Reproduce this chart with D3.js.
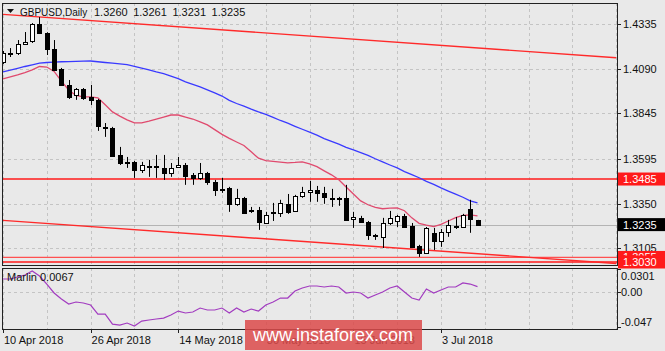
<!DOCTYPE html>
<html>
<head>
<meta charset="utf-8">
<script src="https://cdn.jsdelivr.net/npm/d3@7"></script>
<style>
  body { margin: 0; background: #e9e9e9; }
  svg { display: block; font-family: "Liberation Sans", Arial, sans-serif; }
</style>
</head>
<body>
<div id="grafico"></div>
<script>
// GBPUSD daily bars, 10 Apr 2018 .. 10 Jul 2018
const dates = [
  "2018-04-10","2018-04-11","2018-04-12","2018-04-13","2018-04-16","2018-04-17","2018-04-18","2018-04-19","2018-04-20",
  "2018-04-23","2018-04-24","2018-04-25","2018-04-26","2018-04-27","2018-04-30",
  "2018-05-01","2018-05-02","2018-05-03","2018-05-04","2018-05-07","2018-05-08","2018-05-09","2018-05-10","2018-05-11",
  "2018-05-14","2018-05-15","2018-05-16","2018-05-17","2018-05-18","2018-05-21","2018-05-22","2018-05-23","2018-05-24",
  "2018-05-25","2018-05-28","2018-05-29","2018-05-30","2018-05-31",
  "2018-06-01","2018-06-04","2018-06-05","2018-06-06","2018-06-07","2018-06-08","2018-06-11","2018-06-12","2018-06-13",
  "2018-06-14","2018-06-15","2018-06-18","2018-06-19","2018-06-20","2018-06-21","2018-06-22","2018-06-25","2018-06-26",
  "2018-06-27","2018-06-28","2018-06-29",
  "2018-07-02","2018-07-03","2018-07-04","2018-07-05","2018-07-06","2018-07-09","2018-07-10"
];
const openP = [1.4127,1.4178,1.4176,1.4225,1.4242,1.4335,1.4286,1.4198,1.4088,1.4001,1.3946,1.3979,1.3935,1.3919,1.3771,
  1.3765,1.3617,1.3580,1.3579,1.3535,1.3557,1.3554,1.3546,1.3518,1.3551,1.3562,1.3508,1.3491,1.3518,1.3469,1.3431,1.3436,
  1.3349,1.3382,1.3316,1.3316,1.3244,1.3305,1.3299,1.3349,1.3310,1.3392,1.3414,1.3425,1.3409,1.3379,1.3376,1.3382,1.3266,
  1.3272,1.3250,1.3176,1.3168,1.3244,1.3255,1.3283,1.3228,1.3118,1.3080,1.3190,1.3146,1.3195,1.3230,1.3222,1.3321,1.3260];
const highP = [1.4187,1.4203,1.4247,1.4291,1.4340,1.4373,1.4290,1.4247,1.4094,1.4028,1.3984,1.3984,1.4001,1.3924,1.3792,
  1.3771,1.3661,1.3606,1.3584,1.3579,1.3590,1.3617,1.3617,1.3573,1.3606,1.3573,1.3518,1.3573,1.3524,1.3480,1.3491,1.3442,
  1.3431,1.3387,1.3332,1.3332,1.3305,1.3354,1.3371,1.3403,1.3398,1.3442,1.3475,1.3447,1.3442,1.3431,1.3387,1.3453,1.3305,
  1.3283,1.3255,1.3184,1.3272,1.3310,1.3288,1.3294,1.3244,1.3124,1.3222,1.3217,1.3211,1.3261,1.3277,1.3294,1.3371,1.3261];
const lowP = [1.4116,1.4154,1.4165,1.4220,1.4231,1.4280,1.4165,1.4077,1.3995,1.3924,1.3919,1.3919,1.3891,1.3749,1.3716,
  1.3606,1.3562,1.3546,1.3491,1.3518,1.3497,1.3491,1.3480,1.3497,1.3546,1.3453,1.3453,1.3480,1.3453,1.3392,1.3409,1.3305,
  1.3338,1.3294,1.3299,1.3206,1.3239,1.3255,1.3277,1.3294,1.3305,1.3382,1.3360,1.3360,1.3349,1.3332,1.3338,1.3255,1.3217,
  1.3244,1.3151,1.3151,1.3107,1.3233,1.3222,1.3217,1.3107,1.3058,1.3075,1.3096,1.3113,1.3168,1.3211,1.3217,1.3190,1.3231];
const closeP = [1.4176,1.4174,1.4225,1.4236,1.4335,1.4286,1.4198,1.4083,1.4001,1.3935,1.3979,1.3930,1.3919,1.3776,1.3765,
  1.3612,1.3573,1.3576,1.3535,1.3562,1.3554,1.3557,1.3518,1.3546,1.3562,1.3502,1.3491,1.3518,1.3469,1.3425,1.3428,1.3349,
  1.3382,1.3299,1.3313,1.3250,1.3288,1.3302,1.3354,1.3305,1.3392,1.3414,1.3425,1.3409,1.3387,1.3376,1.3379,1.3261,1.3277,
  1.3250,1.3179,1.3173,1.3244,1.3272,1.3283,1.3222,1.3113,1.3080,1.3217,1.3146,1.3195,1.3233,1.3228,1.3288,1.3266,1.3235];

// moving averages (blue = slow, pink = fast)
const maSlow = [1.4073,1.4082,1.4092,1.4102,1.4111,1.4120,1.4124,1.4126,1.4128,1.4129,1.4130,1.4131,1.4132,1.4128,1.4124,
  1.4120,1.4116,1.4112,1.4103,1.4093,1.4083,1.4072,1.4063,1.4049,1.4035,1.4018,1.4004,1.3990,1.3974,1.3957,1.3940,1.3916,
  1.3899,1.3885,1.3868,1.3853,1.3839,1.3823,1.3806,1.3791,1.3774,1.3758,1.3742,1.3726,1.3707,1.3691,1.3676,1.3659,1.3645,
  1.3630,1.3615,1.3596,1.3579,1.3562,1.3546,1.3526,1.3509,1.3492,1.3472,1.3456,1.3436,1.3419,1.3402,1.3385,1.3365,1.3354];
const maFast = [1.4034,1.4045,1.4056,1.4069,1.4083,1.4102,1.4099,1.4075,1.4022,1.3973,1.3943,1.3935,1.3935,1.3930,1.3892,
  1.3853,1.3830,1.3809,1.3793,1.3793,1.3802,1.3814,1.3825,1.3836,1.3836,1.3825,1.3814,1.3798,1.3782,1.3756,1.3730,1.3708,
  1.3688,1.3669,1.3634,1.3599,1.3586,1.3582,1.3578,1.3574,1.3576,1.3579,1.3568,1.3553,1.3530,1.3508,1.3481,1.3441,1.3403,
  1.3365,1.3344,1.3329,1.3322,1.3325,1.3327,1.3311,1.3272,1.3242,1.3232,1.3224,1.3236,1.3255,1.3273,1.3285,1.3288,1.3283];

// Marlin oscillator
const marlin = [0.0168,0.0168,0.0195,0.0221,0.0274,0.0208,0.0101,-0.0018,-0.0098,-0.0165,-0.0138,-0.0151,-0.0178,-0.0298,
  -0.0298,-0.0431,-0.0444,-0.0417,-0.0457,-0.0391,-0.0377,-0.0364,-0.0351,-0.0311,-0.0258,-0.0284,-0.0271,-0.0218,-0.0244,
  -0.0244,-0.0218,-0.0284,-0.0218,-0.0271,-0.0231,-0.0258,-0.0178,-0.0138,-0.0085,-0.0085,0.0008,0.0048,0.0075,0.0075,
  0.0062,0.0075,0.0062,-0.0018,-0.0005,-0.0018,-0.0085,-0.0045,-0.0005,0.0048,0.0075,-0.0005,-0.0085,-0.0111,0.0035,
  -0.0018,0.0022,0.0062,0.0062,0.0115,0.0101,0.0067];

// axes
const priceTicks = [1.4335, 1.4090, 1.3845, 1.3595, 1.3350, 1.3105];
const marlinTicks = [0.0301, 0.00, -0.047];
const marlinTickText = ["0.0301", "0.00", "-0.047"];
const dateTickIdx = [0, 12, 24, 36, 48, 60];
const dateTickText = ["10 Apr 2018", "26 Apr 2018", "14 May 2018", "30 May 2018", "15 Jun 2018", "3 Jul 2018"];

// horizontal levels and channel (index, price)
const levels = [1.3485, 1.3055, 1.3030];
const channelUp = [[0, 1.4388], [84, 1.4150]];
const channelDown = [[0, 1.3258], [84, 1.3022]];
const lastPrice = 1.3235;

const W = 665, H = 351;
const pLeft = 2, pRight = 617, pTop = 3, priceBottom = 265, indTop = 268, indBottom = 329;

const svg = d3.select("#grafico").append("svg").attr("width", W).attr("height", H);
svg.append("rect").attr("width", W).attr("height", H).attr("fill", "#e9e9e9");

const x = d3.scaleLinear().domain([0, 84]).range([3, 3 + 84 * 7.3]);
const y = d3.scaleLinear().domain([1.3030, 1.4335]).range([262, 24]);
const yi = d3.scaleLinear().domain([-0.047, 0.0301]).range([327, 269]);

const defs = svg.append("defs");
defs.append("clipPath").attr("id", "clipP").append("rect")
  .attr("x", pLeft).attr("y", pTop).attr("width", pRight - pLeft).attr("height", priceBottom - pTop);
defs.append("clipPath").attr("id", "clipI").append("rect")
  .attr("x", pLeft).attr("y", indTop).attr("width", pRight - pLeft).attr("height", indBottom - indTop);

const gP = svg.append("g").attr("clip-path", "url(#clipP)");
const gI = svg.append("g").attr("clip-path", "url(#clipI)");

// grid
const gridIdx = d3.range(0, 85, 6);
[gP, gI].forEach((g, k) => {
  g.selectAll(".vg").data(gridIdx).join("line")
    .attr("x1", d => Math.round(x(d)) + 0.5).attr("x2", d => Math.round(x(d)) + 0.5)
    .attr("y1", k ? indTop : pTop).attr("y2", k ? indBottom : priceBottom)
    .attr("stroke", "#c4c4c4").attr("stroke-dasharray", "3,3");
});
gP.selectAll(".hg").data(priceTicks).join("line")
  .attr("x1", pLeft).attr("x2", pRight)
  .attr("y1", d => Math.round(y(d)) + 0.5).attr("y2", d => Math.round(y(d)) + 0.5)
  .attr("stroke", "#c4c4c4").attr("stroke-dasharray", "3,3");
gI.append("line").attr("x1", pLeft).attr("x2", pRight)
  .attr("y1", Math.round(yi(0)) + 0.5).attr("y2", Math.round(yi(0)) + 0.5)
  .attr("stroke", "#c4c4c4").attr("stroke-dasharray", "3,3");

// bid line
gP.append("line").attr("x1", pLeft).attr("x2", pRight)
  .attr("y1", Math.round(y(lastPrice)) + 0.5).attr("y2", Math.round(y(lastPrice)) + 0.5)
  .attr("stroke", "#b4b4b4");

// levels
gP.selectAll(".lv").data(levels).join("line")
  .attr("x1", pLeft).attr("x2", pRight)
  .attr("y1", d => y(d)).attr("y2", d => y(d))
  .attr("stroke", (d, i) => i === 1 ? "#ff5050" : "#ff1a1a").attr("stroke-width", 1.3);

// channel
const chLine = d3.line().x(d => x(d[0])).y(d => y(d[1]));
gP.append("path").attr("d", chLine(channelUp)).attr("fill", "none").attr("stroke", "#ff2a2a").attr("stroke-width", 1.4);
gP.append("path").attr("d", chLine(channelDown)).attr("fill", "none").attr("stroke", "#ff2a2a").attr("stroke-width", 1.4);

// moving averages
const maLine = d3.line().x((d, i) => x(i)).y(d => y(d));
gP.append("path").attr("d", maLine(maSlow)).attr("fill", "none").attr("stroke", "#3a3aff").attr("stroke-width", 1.3);
gP.append("path").attr("d", maLine(maFast)).attr("fill", "none").attr("stroke", "#e04a6e").attr("stroke-width", 1.3);

// candles
const bars = dates.map((d, i) => ({ i, o: openP[i], h: highP[i], l: lowP[i], c: closeP[i] }));
const cg = gP.selectAll(".c").data(bars).join("g");
cg.append("line")
  .attr("x1", d => Math.round(x(d.i)) + 0.5).attr("x2", d => Math.round(x(d.i)) + 0.5)
  .attr("y1", d => y(d.h)).attr("y2", d => y(d.l))
  .attr("stroke", "#000");
cg.append("rect")
  .attr("x", d => Math.round(x(d.i)) - 2 + 0.5)
  .attr("y", d => Math.round(y(Math.max(d.o, d.c))) + 0.5)
  .attr("width", 4)
  .attr("height", d => Math.max(1, Math.round(y(Math.min(d.o, d.c)) - y(Math.max(d.o, d.c)))))
  .attr("fill", d => d.c >= d.o ? "#fff" : "#000")
  .attr("stroke", "#000");

// marlin
const mLine = d3.line().x((d, i) => x(i)).y(d => yi(d));
gI.append("path").attr("d", mLine(marlin)).attr("fill", "none").attr("stroke", "#a23cc0").attr("stroke-width", 1.2);

// frames
svg.append("rect").attr("x", pLeft + 0.5).attr("y", pTop + 0.5).attr("width", pRight - pLeft).attr("height", priceBottom - pTop)
  .attr("fill", "none").attr("stroke", "#222");
svg.append("rect").attr("x", pLeft + 0.5).attr("y", indTop + 0.5).attr("width", pRight - pLeft).attr("height", indBottom - indTop)
  .attr("fill", "none").attr("stroke", "#222");

// price axis
svg.selectAll(".pt").data(priceTicks).join("line")
  .attr("x1", pRight).attr("x2", pRight + 4)
  .attr("y1", d => Math.round(y(d)) + 0.5).attr("y2", d => Math.round(y(d)) + 0.5).attr("stroke", "#222");
svg.selectAll(".pl").data(priceTicks).join("text")
  .attr("x", 623).attr("y", d => y(d) + 4)
  .attr("font-size", 11).attr("fill", "#111").text(d => d.toFixed(4));

// boxed labels
const boxes = [
  { p: 1.3485, fill: "#ff1a1a" },
  { p: lastPrice, fill: "#000" },
  { p: 1.3055, fill: "#ff1a1a" },
  { p: 1.3030, fill: "#ff1a1a" }
];
boxes.forEach(b => {
  const cy = y(b.p);
  svg.append("rect").attr("x", 618).attr("y", cy - 6.5).attr("width", 47).attr("height", 13).attr("fill", b.fill);
  svg.append("text").attr("x", 623).attr("y", cy + 4).attr("font-size", 11).attr("fill", "#fff").text(b.p.toFixed(4));
});

// marlin axis
svg.selectAll(".mt").data(marlinTicks).join("line")
  .attr("x1", pRight).attr("x2", pRight + 4)
  .attr("y1", d => Math.round(yi(d)) + 0.5).attr("y2", d => Math.round(yi(d)) + 0.5).attr("stroke", "#222");
svg.selectAll(".ml").data(marlinTicks).join("text")
  .attr("x", 621).attr("y", (d, i) => yi(d) + (i === 0 ? 11 : i === 2 ? -1 : 4))
  .attr("font-size", 11).attr("fill", "#111").text((d, i) => marlinTickText[i]);

// date axis
svg.selectAll(".dt").data(dateTickIdx).join("line")
  .attr("x1", d => Math.round(x(d)) + 0.5).attr("x2", d => Math.round(x(d)) + 0.5)
  .attr("y1", indBottom).attr("y2", indBottom + 4).attr("stroke", "#222");
svg.selectAll(".dl").data(dateTickIdx).join("text")
  .attr("x", d => x(d) + 1).attr("y", 344)
  .attr("font-size", 11).attr("fill", "#111").text((d, i) => dateTickText[i]);

// titles
svg.append("path").attr("d", "M7,9 L14,9 L10.5,13 Z").attr("fill", "#111");
svg.append("text").attr("x", 20).attr("y", 16).attr("font-size", 10).attr("fill", "#111").text("GBPUSD,Daily");
svg.append("text").attr("x", 94).attr("y", 16).attr("font-size", 11).attr("word-spacing", "2.5px").attr("fill", "#111")
  .text([openP, highP, lowP, closeP].map(a => a[a.length - 1].toFixed(4)).join(" "));
svg.append("text").attr("x", 7).attr("y", 281).attr("font-size", 11).attr("fill", "#111")
  .text("Marlin " + marlin[marlin.length - 1].toFixed(4));

// watermark
svg.append("rect").attr("x", 245).attr("y", 320).attr("width", 177).attr("height", 30)
  .attr("fill", "#dc4a4a").attr("opacity", 0.85);
svg.append("text").attr("x", 333).attr("y", 341).attr("text-anchor", "middle")
  .attr("font-size", 18).attr("fill", "#fff").text("www.instaforex.com");
</script>
</body>
</html>
